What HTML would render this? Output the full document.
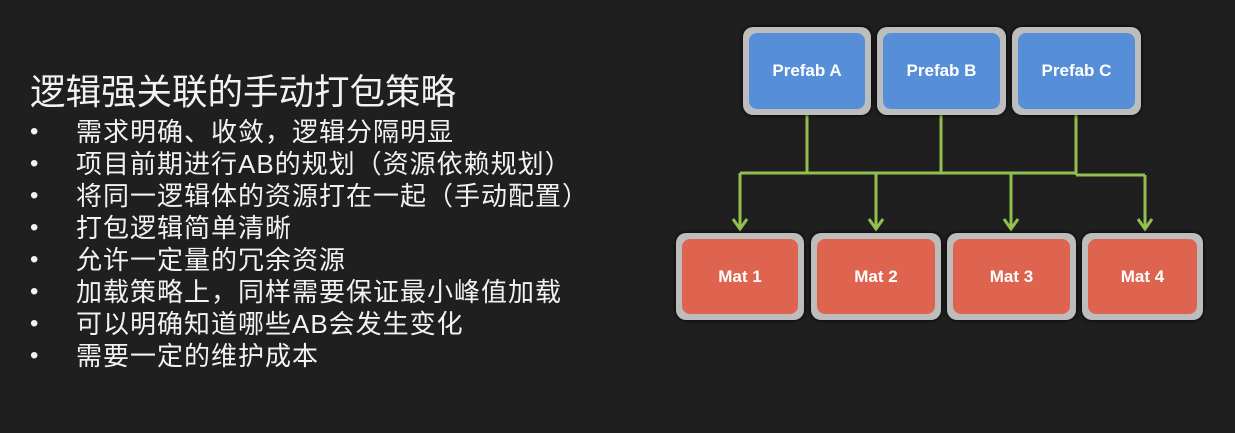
<!DOCTYPE html>
<html><head><meta charset="utf-8"><style>
html,body{margin:0;padding:0}
body{width:1235px;height:433px;background:#1f1f1f;position:relative;overflow:hidden;font-family:"Liberation Sans","Noto Sans CJK SC",sans-serif;color:#f2f2f2}
.t{position:absolute;left:30px;top:70px;font-size:35.5px;white-space:nowrap;line-height:44px}
.b{position:absolute;left:30px;white-space:nowrap;font-size:26px;line-height:32px;letter-spacing:1px}
.b span{position:absolute;left:0;font-size:24px}
.b em{font-style:normal;position:absolute;left:46px}
.box{position:absolute;border-radius:10px;background:#bdbdbd;box-shadow:0 0 4px #000}
.box div{position:absolute;left:6px;top:6px;right:6px;bottom:6px;border-radius:8px;display:flex;align-items:center;justify-content:center;color:#fff;font-weight:bold;font-size:17px}
.p div{background:#568fd8}
.m div{background:#df6450}
</style></head><body>
<div class="t">逻辑强关联的手动打包策略</div>
<div class="b" style="top:116px"><span>•</span><em>需求明确、收敛，逻辑分隔明显</em></div>
<div class="b" style="top:148px"><span>•</span><em>项目前期进行AB的规划（资源依赖规划）</em></div>
<div class="b" style="top:180px"><span>•</span><em>将同一逻辑体的资源打在一起（手动配置）</em></div>
<div class="b" style="top:212px"><span>•</span><em>打包逻辑简单清晰</em></div>
<div class="b" style="top:244px"><span>•</span><em>允许一定量的冗余资源</em></div>
<div class="b" style="top:276px"><span>•</span><em>加载策略上，同样需要保证最小峰值加载</em></div>
<div class="b" style="top:308px"><span>•</span><em>可以明确知道哪些AB会发生变化</em></div>
<div class="b" style="top:340px"><span>•</span><em>需要一定的维护成本</em></div>

<svg style="position:absolute;left:0;top:0" width="1235" height="433">
<g stroke="#92c04e" stroke-width="3" fill="none">
<path d="M807 114V173M941 114V173M1076 114V175M740 173H1076M1076 175H1145"/>
<path d="M740 173V228M876 173V228M1011 173V228M1145 175V228"/>
<path d="M733 219L740 229L747 219M869 219L876 229L883 219M1004 219L1011 229L1018 219M1138 219L1145 229L1152 219"/>
</g></svg>

<div class="box p" style="left:743px;top:27px;width:128px;height:88px"><div>Prefab A</div></div>
<div class="box p" style="left:877px;top:27px;width:129px;height:88px"><div>Prefab B</div></div>
<div class="box p" style="left:1012px;top:27px;width:129px;height:88px"><div>Prefab C</div></div>
<div class="box m" style="left:676px;top:233px;width:128px;height:87px"><div>Mat 1</div></div>
<div class="box m" style="left:811px;top:233px;width:130px;height:87px"><div>Mat 2</div></div>
<div class="box m" style="left:947px;top:233px;width:129px;height:87px"><div>Mat 3</div></div>
<div class="box m" style="left:1082px;top:233px;width:121px;height:87px"><div>Mat 4</div></div>
</body></html>
